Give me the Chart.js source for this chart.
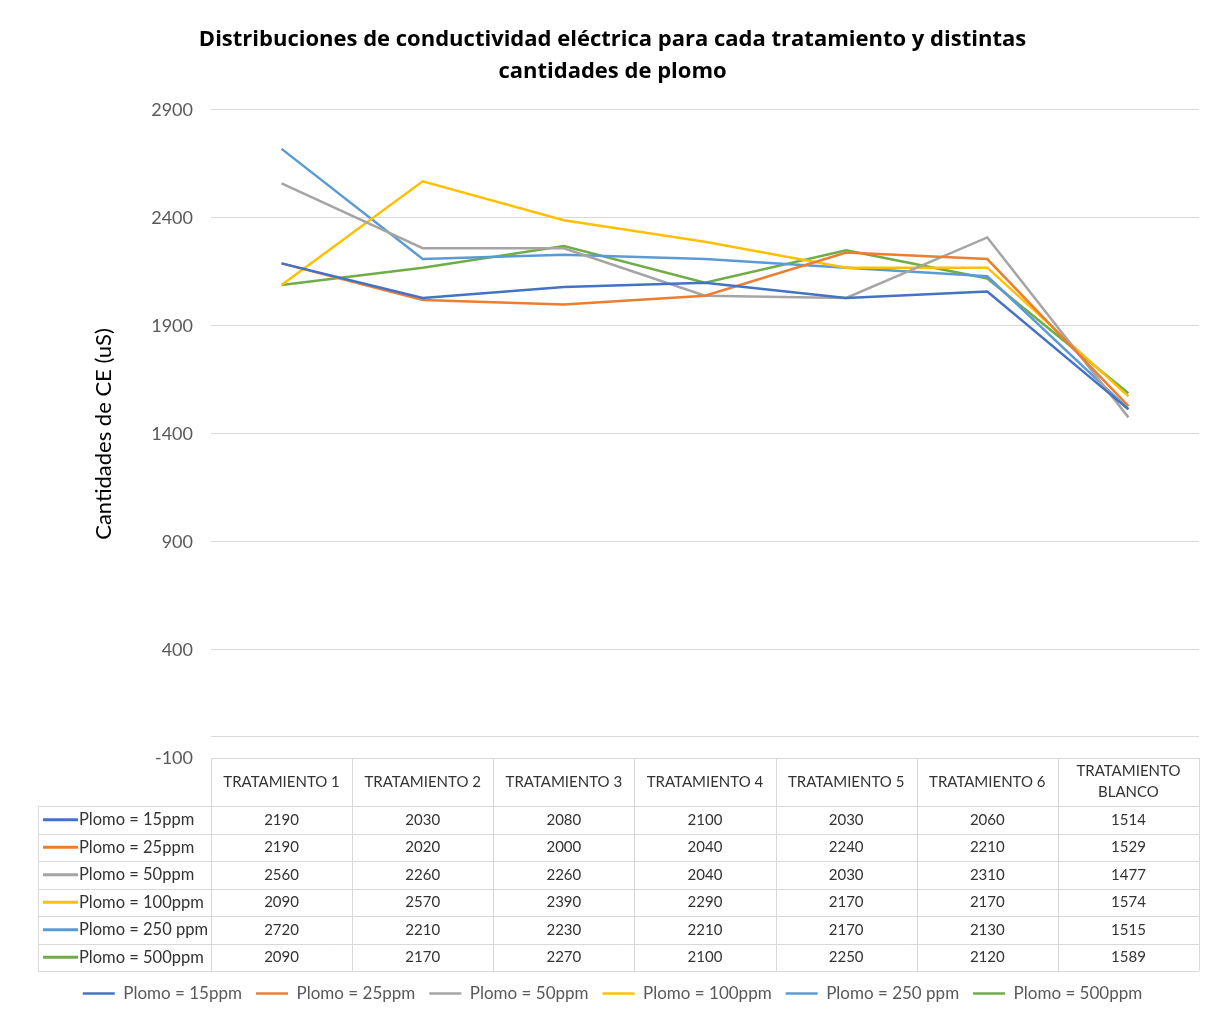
<!DOCTYPE html>
<html>
<head>
<meta charset="utf-8">
<title>Conductividad eléctrica</title>
<script src="https://cdn.jsdelivr.net/npm/chart.js@4.4.0/dist/chart.umd.min.js"></script>
<style>
  html, body { margin: 0; padding: 0; background: #fff; }
  #contenedor { position: relative; width: 1215px; height: 1017px; }
</style>
</head>
<body>
<div id="contenedor"><canvas id="graficoCE"></canvas></div>
<script>
// Datos de CE (uS) por tratamiento
const tratamientos = ['TRATAMIENTO 1', 'TRATAMIENTO 2', 'TRATAMIENTO 3', 'TRATAMIENTO 4',
                      'TRATAMIENTO 5', 'TRATAMIENTO 6', ['TRATAMIENTO', 'BLANCO']];
const nombresSeries = ['Plomo = 15ppm', 'Plomo = 25ppm', 'Plomo = 50ppm',
                       'Plomo = 100ppm', 'Plomo = 250 ppm', 'Plomo = 500ppm'];
const plomo15 = [2190, 2030, 2080, 2100, 2030, 2060, 1514];
const plomo25 = [2190, 2020, 2000, 2040, 2240, 2210, 1529];
const plomo50 = [2560, 2260, 2260, 2040, 2030, 2310, 1477];
const plomo100 = [2090, 2570, 2390, 2290, 2170, 2170, 1574];
const plomo250 = [2720, 2210, 2230, 2210, 2170, 2130, 1515];
const plomo500 = [2090, 2170, 2270, 2100, 2250, 2120, 1589];
const colores = ['#4472C4', '#ED7D31', '#A5A5A5', '#FFC000', '#5B9BD5', '#70AD47'];
const ejeMin = -100, ejeMax = 2900, ejePaso = 500;

const valores = [plomo15, plomo25, plomo50, plomo100, plomo250, plomo500];
const FUENTE = 'Lato, "Liberation Sans", sans-serif';

// linea del eje horizontal en 0
const lineaCero = {
    id: 'lineaCero',
    beforeDatasetsDraw(chart) {
        const { ctx, chartArea: area, scales: { y } } = chart;
        const yc = Math.round(y.getPixelForValue(0)) + 0.5;
        ctx.save();
        ctx.strokeStyle = '#d9d9d9';
        ctx.lineWidth = 1;
        ctx.beginPath();
        ctx.moveTo(area.left, yc);
        ctx.lineTo(area.right, yc);
        ctx.stroke();
        ctx.restore();
    }
};

// tabla de datos bajo el grafico
const tablaDatos = {
    id: 'tablaDatos',
    afterDraw(chart) {
        const { ctx, chartArea: area, scales: { x } } = chart;
        const n = tratamientos.length;
        const anchoCol = (area.right - area.left) / n;
        const yCab = area.bottom;
        const altoCab = 48;
        const altoFila = 27.5;
        const xIzq = 38;
        const yFilas = yCab + altoCab;
        const yFin = yFilas + altoFila * nombresSeries.length;

        ctx.save();
        ctx.strokeStyle = '#d9d9d9';
        ctx.lineWidth = 1;
        ctx.beginPath();
        ctx.moveTo(area.left, Math.round(yCab) + 0.5);
        ctx.lineTo(area.right, Math.round(yCab) + 0.5);
        for (let r = 0; r <= nombresSeries.length; r++) {
            const yy = Math.round(yFilas + r * altoFila) + 0.5;
            ctx.moveTo(xIzq, yy);
            ctx.lineTo(area.right, yy);
        }
        for (let c = 0; c <= n; c++) {
            const xx = Math.round(x.getPixelForValue(0) - anchoCol / 2 + c * anchoCol) + 0.5;
            ctx.moveTo(xx, yCab);
            ctx.lineTo(xx, yFin);
        }
        ctx.moveTo(xIzq + 0.5, yFilas);
        ctx.lineTo(xIzq + 0.5, yFin);
        ctx.stroke();

        ctx.fillStyle = '#333';
        ctx.font = '15px ' + FUENTE;
        ctx.textAlign = 'center';
        ctx.textBaseline = 'middle';
        // cabecera
        tratamientos.forEach((t, i) => {
            const xc = x.getPixelForValue(i);
            const lineas = Array.isArray(t) ? t : [t];
            lineas.forEach((l, k) => {
                ctx.fillText(l, xc, yCab + altoCab / 2 + (k - (lineas.length - 1) / 2) * 21);
            });
        });
        // filas: clave de color, nombre y valores
        valores.forEach((serie, r) => {
            const yc = yFilas + altoFila * (r + 0.5);
            ctx.font = '15px ' + FUENTE;
            ctx.textAlign = 'center';
            serie.forEach((v, i) => ctx.fillText(String(v), x.getPixelForValue(i), yc));
            ctx.strokeStyle = colores[r];
            ctx.lineWidth = 3;
            ctx.beginPath();
            ctx.moveTo(xIzq + 5, yc);
            ctx.lineTo(xIzq + 40, yc);
            ctx.stroke();
            ctx.font = '16.5px ' + FUENTE;
            ctx.textAlign = 'left';
            ctx.fillText(nombresSeries[r], xIzq + 41, yc);
        });
        ctx.restore();
    }
};

const ctx = document.getElementById('graficoCE').getContext('2d');
new Chart(ctx, {
    type: 'line',
    data: {
        labels: tratamientos,
        datasets: valores.map((serie, i) => ({
            label: nombresSeries[i],
            data: serie,
            borderColor: colores[i],
            backgroundColor: colores[i],
            borderWidth: 2.5,
            pointRadius: 0,
            tension: 0
        }))
    },
    options: {
        responsive: true,
        maintainAspectRatio: false,
        animation: false,
        layout: { padding: { left: 10, right: 0, top: 0, bottom: 5 } },
        plugins: {
            title: {
                display: true,
                text: ['Distribuciones de conductividad eléctrica para cada tratamiento y distintas',
                       'cantidades de plomo'],
                color: '#000',
                font: { family: '"Open Sans", sans-serif', size: 22, weight: 'bold', lineHeight: 1.4545 },
                padding: { top: 24, bottom: 22 }
            },
            legend: {
                position: 'bottom',
                labels: {
                    usePointStyle: true,
                    pointStyle: 'line',
                    pointStyleWidth: 32,
                    color: '#595959',
                    font: { family: FUENTE, size: 17 },
                    padding: 14
                }
            },
            tooltip: { enabled: false }
        },
        scales: {
            x: {
                offset: true,
                grid: { display: false },
                border: { display: false },
                ticks: { display: false },
                afterFit(escala) { escala.height = 213; }
            },
            y: {
                min: ejeMin,
                max: ejeMax,
                ticks: {
                    stepSize: ejePaso,
                    color: '#595959',
                    font: { family: FUENTE, size: 18 },
                    padding: 18,
                    callback: v => String(v)
                },
                grid: { color: '#d9d9d9', drawTicks: false },
                border: { display: false },
                title: {
                    display: true,
                    text: 'Cantidades de CE (uS)',
                    color: '#000',
                    font: { family: FUENTE, size: 22 },
                    padding: { top: 81, bottom: 0 }
                },
                afterFit(escala) { escala.width = 201; }
            },
            // margen derecho vacio, deja el area de trazado hasta x = 1199
            margenDer: {
                position: 'right',
                grid: { display: false },
                border: { display: false },
                ticks: { display: false },
                afterFit(escala) { escala.width = 16; }
            }
        }
    },
    plugins: [lineaCero, tablaDatos]
});
</script>
</body>
</html>
